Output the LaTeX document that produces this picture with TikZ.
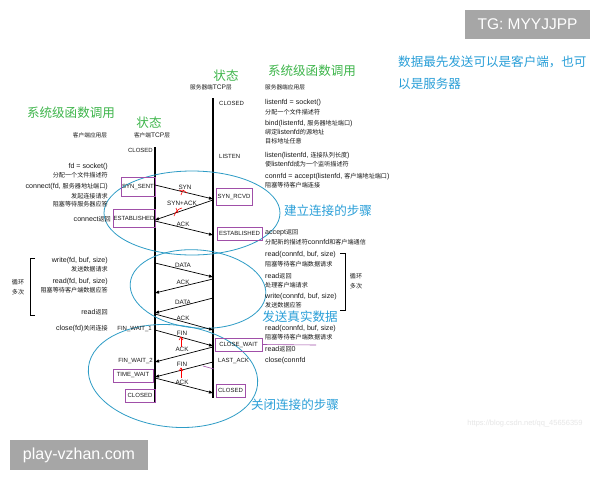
\documentclass[tikz,border=0pt]{standalone}
\usepackage{fontspec}
\setmainfont{Liberation Sans}
\newfontfamily\latf{Liberation Sans}
\newfontfamily\cjkf[Scale=0.86]{Noto Sans CJK SC}
\newfontfamily\wmfont{Liberation Sans}
\XeTeXinterchartokenstate=1
\newXeTeXintercharclass\CJKcls
\newcount\cjkcnt
\cjkcnt=0
\loop
  \XeTeXcharclass\cjkcnt=0
  \advance\cjkcnt by 1
\ifnum\cjkcnt<256 \repeat
\cjkcnt="3000
\loop
  \XeTeXcharclass\cjkcnt=\CJKcls
  \advance\cjkcnt by 1
\ifnum\cjkcnt<"A000 \repeat
\cjkcnt="FF00
\loop
  \XeTeXcharclass\cjkcnt=\CJKcls
  \advance\cjkcnt by 1
\ifnum\cjkcnt<"FFF0 \repeat
\XeTeXinterchartoks 0 \CJKcls = {\cjkf}
\XeTeXinterchartoks 4095 \CJKcls = {\cjkf}
\XeTeXinterchartoks \CJKcls 0 = {\latf}
\XeTeXinterchartoks \CJKcls 4095 = {\latf}
\usetikzlibrary{arrows.meta}
\definecolor{hgreen}{HTML}{3DB54A}
\definecolor{hblue}{HTML}{2A9FD8}
\definecolor{ering}{HTML}{2E9CC6}
\definecolor{boxc}{HTML}{A04FA8}
\definecolor{wmgray}{HTML}{A6A6A6}
\definecolor{faint}{HTML}{E6E6E6}
\definecolor{txt}{HTML}{1A1A1A}
\begin{document}
\begin{tikzpicture}[x=1pt,y=-1pt,
  sm/.style={font=\fontsize{7.1}{8}\selectfont, text=txt, inner sep=0pt},
  smr/.style={sm, anchor=east},
  sml/.style={sm, anchor=west},
  ttl/.style={font=\fontsize{6.6}{7}\selectfont, text=txt, inner sep=0pt},
  stl/.style={font=\fontsize{6}{7}\selectfont, text=txt, inner sep=0pt},
  stbox/.style={draw=boxc, line width=0.8pt, font=\fontsize{6}{7}\selectfont, text=txt, inner sep=0pt},
  head/.style={font=\fontsize{14.6}{16}\selectfont, text=hgreen, inner sep=0pt},
  bhead/.style={font=\fontsize{14.6}{16}\selectfont, text=hblue, inner sep=0pt},
  msg/.style={-{Triangle[length=4pt,width=3pt]}, line width=0.7pt},
  lbl/.style={font=\fontsize{6.3}{7}\selectfont, text=txt, inner sep=0pt},
  ring/.style={draw=ering, line width=0.8pt},
  redmk/.style={draw=red, line width=0.6pt},
  life/.style={line width=1.1pt},
  brk/.style={line width=0.9pt},
]
\useasboundingbox (0,0) rectangle (600,480);
\fill[white] (0,0) rectangle (600,480);

% lifelines
\coordinate (ctop) at (155,147);
\coordinate (cbot) at (155,402);
\coordinate (stop) at (213,98);
\coordinate (sbot) at (213,398);
\draw[life] (ctop) -- (cbot);
\draw[life] (stop) -- (sbot);

% ellipses
\draw[ring] (192,213) ellipse [x radius=88, y radius=42];
\draw[ring, rotate around={-5:(198,289)}] (198,289) ellipse [x radius=68, y radius=39];
\draw[ring, rotate around={-6:(173,376)}] (173,376) ellipse [x radius=85, y radius=51];

% headings
\node[head] (sstate) at (226,76) {状态};
\node[ttl] (stcp) at (211,87) {服务器端TCP层};
\node[head] (sfun) at (312,71) {系统级函数调用};
\node[ttl, anchor=west] (sapp) at (265,87) {服务器端应用层};
\node[head] (cfun) at (71,113) {系统级函数调用};
\node[head] (cstate) at (149,123) {状态};
\node[ttl] (capp) at (90,135) {客户端应用层};
\node[ttl] (ctcp) at (152,135) {客户端TCP层};

% server functions
\node[sml] (f1) at (265,103) {listenfd = socket()};
\node[sml] (f2) at (265,112) {分配一个文件描述符};
\node[sml] (f3) at (265,124) {bind(listenfd, 服务器地址端口)};
\node[sml] (f4) at (265,132) {绑定listenfd的源地址};
\node[sml] (f5) at (265,141) {目标地址任意};
\node[sml] (f6) at (265,156) {listen(listenfd, 连接队列长度)};
\node[sml] (f7) at (265,164) {使listenfd成为一个监听描述符};
\node[sml] (f8) at (265,177) {connfd = accept(listenfd, 客户端地址端口)};
\node[sml] (f9) at (265,185) {阻塞等待客户端连接};
\node[sml] (f10) at (265,233) {accept返回};
\node[sml] (f11) at (265,242) {分配新的描述符connfd和客户端通信};
\node[sml] (f12) at (265,255) {read(connfd, buf, size)};
\node[sml] (f13) at (265,264) {阻塞等待客户端数据请求};
\node[sml] (f14) at (265,276) {read返回};
\node[sml] (f15) at (265,285) {处理客户端请求};
\node[sml] (f16) at (265,297) {write(connfd, buf, size)};
\node[sml] (f17) at (265,305) {发送数据应答};
\node[sml] (f18) at (265,329) {read(connfd, buf, size)};
\node[sml] (f19) at (265,337) {阻塞等待客户端数据请求};
\node[sml] (f20) at (265,349) {read返回0};
\node[sml] (f21) at (265,361) {close(connfd};

% client functions
\node[smr] (g1) at (108,167) {fd = socket()};
\node[smr] (g2) at (108,175) {分配一个文件描述符};
\node[smr] (g3) at (108,187) {connect(fd, 服务器地址端口)};
\node[smr] (g4) at (108,196) {发起连接请求};
\node[smr] (g5) at (108,204) {阻塞等待服务器应答};
\node[smr] (g6) at (111,219) {connect返回};
\node[smr] (g7) at (108,261) {write(fd, buf, size)};
\node[smr] (g8) at (108,269) {发送数据请求};
\node[smr] (g9) at (108,282) {read(fd, buf, size)};
\node[smr] (g10) at (108,290) {阻塞等待客户端数据应答};
\node[smr] (g11) at (108,312) {read返回};
\node[smr] (g12) at (108,329) {close(fd)关闭连接};

% loop brackets
\coordinate (cb1) at (35,258); \coordinate (cb2) at (30,258);
\coordinate (cb3) at (30,315); \coordinate (cb4) at (35,315);
\draw[brk] (cb1) -- (cb2) -- (cb3) -- (cb4);
\node[sm] (cl1) at (18,282) {循环};
\node[sm] (cl2) at (18,292) {多次};
\coordinate (sb1) at (340,253); \coordinate (sb2) at (345,253);
\coordinate (sb3) at (345,310); \coordinate (sb4) at (340,310);
\draw[brk] (sb1) -- (sb2) -- (sb3) -- (sb4);
\node[sm] (sl1) at (356,276) {循环};
\node[sm] (sl2) at (356,286) {多次};

% state labels
\node[stl, anchor=east] (cclosed) at (153,150) {CLOSED};
\node[stl, anchor=west] (sclosed) at (219,103) {CLOSED};
\node[stl, anchor=west] (slisten) at (219,156) {LISTEN};
\node[stl, anchor=east] (fw1) at (152,329) {FIN\_WAIT\_1};
\node[stl, anchor=east] (fw2) at (153,361) {FIN\_WAIT\_2};
\node[stl, anchor=west] (lack) at (218,361) {LAST\_ACK};

% state boxes
\node[stbox, minimum width=34pt, minimum height=19pt] (synsent) at (138,186.5) {SYN\_SENT};
\node[stbox, minimum width=42pt, minimum height=18pt] (cest) at (134,218) {ESTABLISHED};
\node[stbox, minimum width=36pt, minimum height=17pt] (synrcvd) at (234,196.5) {SYN\_RCVD};
\node[stbox, minimum width=45pt, minimum height=13pt] (sest) at (239.5,233.5) {ESTABLISHED};
\node[stbox, minimum width=47pt, minimum height=13pt] (closewait) at (238.5,344.5) {CLOSE\_WAIT};
\node[stbox, minimum width=40pt, minimum height=13pt] (timewait) at (133,375.5) {TIME\_WAIT};
\node[stbox, minimum width=30pt, minimum height=13pt] (cclosed2) at (140,395.5) {CLOSED};
\node[stbox, minimum width=29pt, minimum height=13pt] (sclosed2) at (230.5,390.5) {CLOSED};

% small purple marks
\coordinate (cwend) at (316,345);
\draw[boxc, line width=0.6pt] (closewait.east) -- (cwend);
\coordinate (pm1) at (203,366); \coordinate (pm2) at (214,369);
\draw[boxc, line width=0.6pt] (pm1) -- (pm2);

% message endpoints
\coordinate (a1) at (155,185); \coordinate (b1) at (213,199);
\coordinate (b2) at (213,200); \coordinate (a2) at (155,220);
\coordinate (a3) at (155,221); \coordinate (b3) at (213,235);
\coordinate (a4) at (155,263); \coordinate (b4) at (213,277);
\coordinate (b5) at (213,279); \coordinate (a5) at (155,293);
\coordinate (b6) at (213,298); \coordinate (a6) at (155,313);
\coordinate (a7) at (155,314); \coordinate (b7) at (213,330);
\coordinate (a8) at (155,330); \coordinate (b8) at (213,346);
\coordinate (b9) at (213,347); \coordinate (a9) at (155,362);
\coordinate (b10) at (213,362); \coordinate (a10) at (155,377);
\coordinate (a11) at (155,378); \coordinate (b11) at (213,393);

\draw[msg] (a1) -- (b1);
\draw[msg] (b2) -- (a2);
\draw[msg] (a3) -- (b3);
\draw[msg] (a4) -- (b4);
\draw[msg] (b5) -- (a5);
\draw[msg] (b6) -- (a6);
\draw[msg] (a7) -- (b7);
\draw[msg] (a8) -- (b8);
\draw[msg] (b9) -- (a9);
\draw[msg] (b10) -- (a10);
\draw[msg] (a11) -- (b11);

% message labels
\node[lbl] (l1) at (185,187) {SYN};
\node[lbl] (l2) at (182,203) {SYN+ACK};
\node[lbl] (l3) at (183,224) {ACK};
\node[lbl] (l4) at (183,265) {DATA};
\node[lbl] (l5) at (183,282) {ACK};
\node[lbl] (l6) at (183,302) {DATA};
\node[lbl] (l7) at (183,318) {ACK};
\node[lbl] (l8) at (182,333) {FIN};
\node[lbl] (l9) at (182,349) {ACK};
\node[lbl] (l10) at (182,364) {FIN};
\node[lbl] (l11) at (182,382) {ACK};

% red hand marks
\draw[redmk] (181,195) -- (183,190) -- (187,193);
\draw[redmk] (182,191) -- (179,190);
\draw[redmk] (174,216) .. controls (176,211) and (178,209) .. (182,208);
\draw[redmk] (176,208) -- (178,213);
\draw[redmk] (181,347) -- (181,337);
\draw[redmk] (179,340) -- (181,337) -- (183,340);
\draw[redmk] (181,378) -- (181,368);
\draw[redmk] (179,371) -- (181,368) -- (183,371);

% blue section titles
\node[bhead] (t1) at (328,211) {建立连接的步骤};
\node[bhead] (t2) at (300,317) {发送真实数据};
\node[bhead] (t3) at (295,405) {关闭连接的步骤};
\node[bhead, anchor=west] (n1) at (398,62) {数据最先发送可以是客户端，也可};
\node[bhead, anchor=west] (n2) at (398,84) {以是服务器};

% watermarks
\node[fill=wmgray, minimum width=125pt, minimum height=29pt, inner sep=0pt, text=white, font=\wmfont\fontsize{15.5}{17}\selectfont] (tg) at (527.5,24.5) {TG: MYYJJPP};
\node[fill=wmgray, minimum width=138pt, minimum height=30pt, inner sep=0pt, text=white, font=\wmfont\fontsize{16}{18}\selectfont] (pv) at (79,455) {play-vzhan.com};
\node[text=faint, inner sep=0pt, font=\fontsize{7.5}{9}\selectfont] (url) at (525,424) {https://blog.csdn.net/qq\_45656359};
\end{tikzpicture}
\end{document}
